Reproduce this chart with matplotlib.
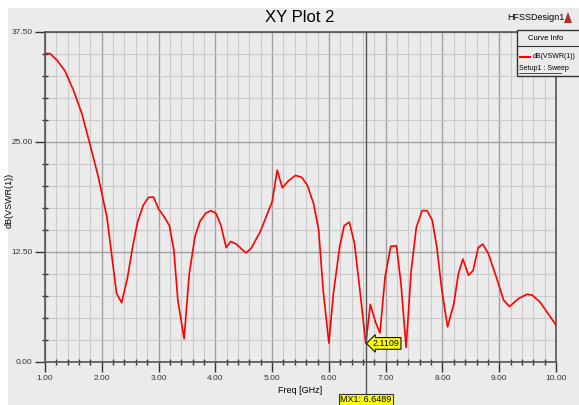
import matplotlib
matplotlib.use("Agg")
import matplotlib.pyplot as plt
from matplotlib.patches import Rectangle
from matplotlib.lines import Line2D
from matplotlib import font_manager

# curve: freq [GHz], dB(VSWR(1))
freq = [1.00, 1.09, 1.21, 1.35, 1.50, 1.65, 1.79, 1.94, 2.09, 2.18, 2.26, 2.35,
        2.45, 2.55, 2.63, 2.73, 2.82, 2.91, 3.00, 3.10, 3.19, 3.27, 3.34, 3.45,
        3.54, 3.64, 3.73, 3.83, 3.92, 4.01, 4.10, 4.19, 4.27, 4.37, 4.47, 4.54,
        4.63, 4.79, 5.00, 5.09, 5.18, 5.29, 5.41, 5.52, 5.62, 5.73, 5.82, 5.90,
        6.00, 6.08, 6.19, 6.27, 6.36, 6.45, 6.54, 6.65, 6.73, 6.82, 6.90, 6.99,
        7.09, 7.19, 7.27, 7.36, 7.45, 7.54, 7.64, 7.73, 7.82, 7.90, 7.99, 8.09,
        8.20, 8.28, 8.36, 8.46, 8.54, 8.63, 8.71, 8.81, 8.93, 9.08, 9.18, 9.34,
        9.49, 9.58, 9.72, 10.00]
vswr_db = [35.05, 35.05, 34.3, 33.1, 30.9, 28.2, 24.8, 21.0, 16.5, 11.9, 7.8, 6.75,
           9.5, 13.3, 15.9, 17.8, 18.7, 18.75, 17.4, 16.5, 15.5, 12.7, 7.0, 2.65,
           10.0, 14.2, 16.0, 16.9, 17.2, 16.9, 15.5, 13.0, 13.7, 13.4, 12.8, 12.4,
           12.9, 14.8, 18.2, 21.8, 19.8, 20.6, 21.2, 21.0, 20.1, 18.0, 15.0, 8.1,
           2.15, 7.8, 13.1, 15.5, 15.9, 13.5, 8.5, 2.11, 6.55, 4.55, 3.3, 9.7,
           13.15, 13.2, 8.9, 1.65, 10.4, 15.3, 17.2, 17.2, 16.1, 13.1, 8.15, 4.0,
           6.6, 10.0, 11.7, 9.85, 10.4, 13.0, 13.4, 12.3, 10.0, 7.0, 6.3, 7.2,
           7.7, 7.6, 6.8, 4.2]

marker_x = 6.6489
marker_y = 2.1109

xticks = [1, 2, 3, 4, 5, 6, 7, 8, 9, 10]
yticks = [0.0, 12.5, 25.0, 37.5]

# condensed font if available
names = set(f.name for f in font_manager.fontManager.ttflist)
fam = ['Liberation Sans Narrow', 'DejaVu Sans'] if 'Liberation Sans Narrow' in names else ['Liberation Sans', 'DejaVu Sans']
plt.rcParams['font.family'] = fam

bg = '#ebebeb'
fig = plt.figure(figsize=(5.79, 4.05), dpi=100, facecolor='white')
fig.patches.append(Rectangle((8 / 579, 0), 1, 1 - 8 / 405, transform=fig.transFigure,
                             facecolor=bg, edgecolor='none', zorder=-10))

ax = fig.add_axes([45 / 579, 1 - 362 / 405, 511 / 579, 330 / 405])
ax.set_facecolor(bg)
ax.set_xlim(1, 10)
ax.set_ylim(0, 37.5)

ax.set_xticks(xticks)
ax.set_xticklabels(['%.2f' % v for v in xticks])
ax.set_yticks(yticks)
ax.set_yticklabels(['%.2f' % v for v in yticks])
ax.set_xticks([1 + 0.2 * i for i in range(46)], minor=True)
ax.set_yticks([2.5 * i for i in range(16)], minor=True)
ax.grid(which='minor', color='#cacaca', lw=0.8)
ax.grid(which='major', color='#a0a0a0', lw=1.0)
ax.set_axisbelow(True)
ax.tick_params(which='major', direction='out', length=7, width=1, labelsize=6, colors='#333333', pad=2)
ax.tick_params(which='minor', direction='inout', length=5, width=1, color='#333333')
for s in ax.spines.values():
    s.set_color('#555555')
    s.set_linewidth(1.2)

ax.plot(freq, vswr_db, color='#ff0000', lw=1.2, zorder=3)

# marker line and labels
ax.axvline(marker_x, color='#555555', lw=1, zorder=4)
ax.add_line(Line2D([marker_x, marker_x], [0, -3.6], color='#555555', lw=1, clip_on=False))
ax.text(marker_x, -4.3, 'MX1: %.4f' % marker_x, ha='center', va='center', fontsize=6.5,
        clip_on=False, zorder=6,
        bbox=dict(boxstyle='square,pad=0.15', fc='#ffff00', ec='#333333', lw=0.8))
ax.text(marker_x + 0.36, marker_y, '%.4f' % marker_y, ha='center', va='center', fontsize=6.5,
        zorder=6,
        bbox=dict(boxstyle='larrow,pad=0.15', fc='#ffff00', ec='#111111', lw=0.8))

ax.set_xlabel('Freq [GHz]', fontsize=6.5, labelpad=3)
ax.set_ylabel('dB(VSWR(1))', fontsize=6.5)
ax.yaxis.set_label_coords(-31 / 511, 0.49)

fig.text(300 / 579, 1 - 18 / 405, 'XY Plot 2', ha='center', va='center', fontsize=12)
fig.text(536 / 579, 1 - 18 / 405, 'HFSSDesign1', ha='center', va='center', fontsize=6.5)
fig.patches.append(plt.Polygon([[568 / 579, 1 - 12 / 405], [564 / 579, 1 - 23 / 405],
                                [572 / 579, 1 - 23 / 405]], closed=True, transform=fig.transFigure,
                               fc='#b03030', ec='none'))

# curve info box
fig.patches.append(Rectangle((517 / 579, 1 - 76 / 405), 70 / 579, 46 / 405, transform=fig.transFigure,
                             fc=bg, ec='#333333', lw=1, zorder=5))
fig.lines.append(Line2D([517 / 579, 1], [1 - 46 / 405, 1 - 46 / 405], transform=fig.transFigure,
                        color='#333333', lw=0.8, zorder=6))
fig.text(546 / 579, 1 - 38 / 405, 'Curve Info', ha='center', va='center', fontsize=5.5, zorder=7)
fig.lines.append(Line2D([520 / 579, 530 / 579], [1 - 57 / 405, 1 - 57 / 405], transform=fig.transFigure,
                        color='red', lw=1.5, zorder=7))
fig.text(533 / 579, 1 - 57 / 405, 'dB(VSWR(1))', ha='left', va='center', fontsize=5, zorder=7)
fig.text(519 / 579, 1 - 69 / 405, 'Setup1 : Sweep', ha='left', va='center', fontsize=5, zorder=7)
fig.lines.append(Line2D([519 / 579, 561 / 579], [1 - 73 / 405, 1 - 73 / 405], transform=fig.transFigure,
                        color='#333333', lw=0.6, zorder=7))

fig.savefig('out.png', dpi=100, facecolor=fig.get_facecolor())
